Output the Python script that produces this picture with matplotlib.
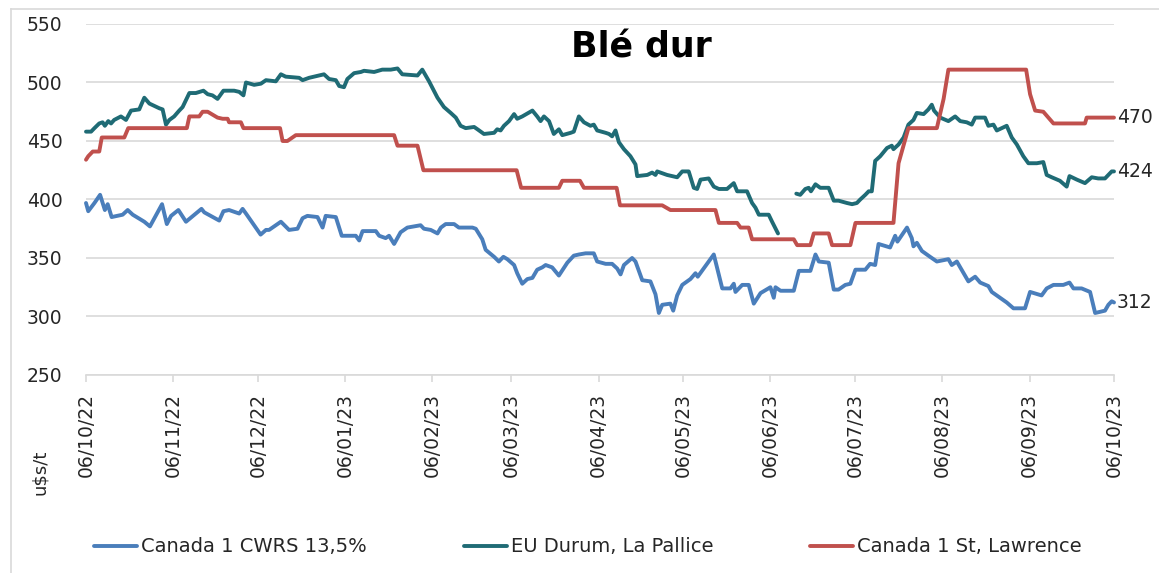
import numpy as np
import matplotlib
matplotlib.use('Agg')
import matplotlib.pyplot as plt
import matplotlib.dates as mdates
from matplotlib.lines import Line2D

# Blé dur prices, u$s/t - days counted from 06/10/22
start = np.datetime64('2022-10-06')

cwrs_days = [0, 0.8, 3, 5, 6.7, 7.7, 9.1, 13, 14.8, 16.6, 20.7, 22.7, 27, 28.7, 30.2, 32.8, 35.5, 41, 42, 47.3,
             48.8, 50.8, 54.4, 55.6, 56.8, 62, 63.9, 65, 69.2, 72.1, 75.1, 76.9, 78.6, 82.2, 84, 85.1, 88.7, 90.8,
             91.6, 95.8, 97, 98.2, 102.9, 104.1, 106.4, 107.6, 109.4, 111.7, 114.1, 118.8, 120, 122.4, 124.8, 126,
             127.7, 130.7, 132.4, 134.2, 137.2, 138.4, 140.7, 141.9, 144.9, 146.6, 148.2, 149.6, 152, 153.1, 154.9,
             156.7, 158.5, 160.2, 162, 163.2, 165.5, 167.9, 170.9, 173.2, 175, 177.4, 180.3, 181.5, 184.5,
             186.8, 188.6, 189.8, 191, 193.9, 195.1, 197.5, 200.4, 202.2, 203.4, 204.6, 207.5, 208.5, 209.9, 211.7,
             214.6, 216.4, 217.2, 222.9, 225.9, 228.8, 230, 230.6, 233, 235.3, 237.1, 239.5, 243, 244.2, 244.8,
             246.6, 251.3, 253.1, 257.2, 259, 260.2, 263.7, 265.5, 267.2, 269.6, 271.4, 273.2, 276.7,
             278.4, 280.2, 281.4, 285.5, 287.3, 288.1, 291.5, 293.2, 293.8, 295, 296.8, 299.7, 302.1, 306.2, 307.4,
             309.2, 313.3, 315.7, 317.5, 320.4, 321.6, 326.9, 329.3, 333.4, 335.2, 339.3, 341.1, 343.5, 347, 349.2,
             350.6, 353.5, 356.5, 358.3, 361.8, 363, 364.2, 365]
cwrs_vals = [397, 390, 397, 404, 391, 396, 385, 387, 391, 387, 381, 377, 396, 379, 386, 391, 381, 392, 389, 382,
             390, 391, 388, 392, 388, 370, 374, 374, 381, 374, 375, 384, 386, 385, 376, 386, 385, 369,
             369, 369, 365, 373, 373, 369, 367, 369, 362, 372, 376, 378, 375, 374, 371, 376,
             379, 379, 376, 376, 376, 375, 366, 357, 351, 347, 351, 349, 344, 337, 328,
             332, 333, 340, 342, 344, 342, 335, 346, 352, 353, 354, 354, 347, 345,
             345, 341, 336, 344, 350, 347, 331, 330, 319, 303, 310, 311, 305, 318, 327,
             332, 337, 334, 353, 324, 324, 328, 321, 327, 327, 311, 320, 325, 316, 325,
             322, 322, 339, 339, 353, 347, 346, 323, 323, 327, 328, 340, 340,
             345, 344, 362, 359, 369, 364, 376, 367, 360, 363, 356, 351, 347, 349, 344,
             347, 330, 334, 329, 326, 321, 312, 307, 307, 321, 318, 324, 327, 327, 329,
             324, 324, 321, 303, 305, 310, 313, 312]

durum_days = [0, 1.8, 3, 4.7, 5.9, 6.7, 7.9, 8.9, 10, 12.4, 14.2, 16, 18.9, 20.7, 22.5, 26, 27.2, 28.4, 29.6, 31.3,
              33.1, 34.3, 36.7, 39, 41.7, 43.2, 44.9, 46.7, 48.8, 52.6, 54.4, 55.9, 56.8, 59.7, 62.1, 63.9, 67.4,
              69.2, 70.9, 75.7, 76.9, 79.2, 82.8, 84.5, 86.3, 88.7, 89.9,
              91.6, 92.8, 95.2, 97.6, 98.7, 102.3, 105.2, 108.2, 110.6, 112.3, 117.7, 119.4, 121.8, 124.8, 127.1,
              129.5, 131.3, 133, 134.8, 137.8, 139, 141.3, 144.9, 146, 147.2, 148.4, 150.2, 152, 153.1, 154.9,
              158.5, 160.2, 161.4, 162.6, 164.4, 166.1, 167.9, 169.1, 172.1, 173.2, 175, 176.8, 179.1, 180.3,
              181.5, 184.5,
              185.7, 186.8, 188, 189.2, 191, 193.3, 195.1, 195.7, 199.3, 201, 202.2, 202.8, 206.3, 209.9, 211.7,
              214, 215.8, 217, 218.2, 221.1, 222.9, 224.7, 227.6, 230, 231.2, 234.7, 236.5, 237.7, 238.9, 242.4,
              243.6, 245.7,
              249,
              252.2, 253.6, 255.4, 256.6, 257.4, 259, 260.7, 263.7, 265.5, 267.2, 270.2, 272, 273.7, 274.9,
              276.7, 277.9, 279, 280.2, 282, 284.4, 286.1, 286.7, 288.5, 290.3, 292, 293.8, 295, 297.4, 299.1,
              300.3, 301.1, 303.3, 306.2, 308.6, 310.4, 312.7, 314.5, 315.7, 319.2, 320.4, 322.2, 323.4, 326.9,
              328.7, 330.5, 332.8, 334.6, 337.6, 339.9, 341.1, 342.9, 345.8, 348.2, 349.2, 351.8, 354.7, 357.1,
              359.4, 361.8, 364.2, 365]
durum_vals = [458, 458, 461, 465, 466, 463, 467, 465, 468, 471, 468, 476, 477, 487, 482, 478, 477, 464, 468, 471,
              476, 479, 491, 491, 493, 490, 489, 486, 493, 493, 492, 489, 500, 498, 499, 502, 501,
              507, 505, 504, 502, 504, 506, 507, 503, 502, 497,
              496, 503, 508, 509, 510, 509, 511, 511, 512, 507, 506, 511, 501, 487, 479,
              474, 470, 463, 461, 462, 460, 456, 457, 460, 459, 463, 467, 473, 469, 471,
              476, 471, 467, 471, 467, 456, 460, 455, 457, 458, 471, 466, 463, 464,
              459, 457,
              456, 454, 459, 449, 443, 437, 430, 420, 421, 423, 421, 424, 421, 419, 424,
              424, 410, 409, 417, 418, 411, 409, 409, 414, 407, 407, 397, 393, 387, 387,
              381, 371,
              np.nan,
              405, 404, 409, 410, 407, 413, 410, 410, 399, 399, 397, 396, 397, 400,
              404, 407, 407, 433, 437, 444, 446, 443, 447, 453, 464, 468, 474, 473, 477,
              481, 476, 470, 467, 471, 467, 466, 464, 470, 470, 463, 464, 459, 463,
              453, 447, 437, 431, 431, 432, 421, 419, 416, 411, 420, 417, 414, 419,
              418, 418, 424, 424]

stl_days = [0, 0.8, 2.4, 4.7, 5.6, 13.6, 15, 35.8, 36.7, 40.2, 41.4, 43.2, 46.7, 48.5, 50.3, 50.8, 55, 55.9,
            68.9, 69.8, 71.5, 74.5, 109.4, 110.6, 117.7, 119.8, 152.9, 154.5, 167.9, 169.1, 175.4, 176.8,
            188.4, 189.6, 204.6, 207.5, 223.5, 224.7, 231.2, 232.4, 235.3, 236.5, 251.3, 252.5, 257.2, 258.4,
            263.7, 264.9, 271.4, 273.2, 286.7, 288.5, 292, 302.1, 304.5, 306.2, 333.8, 335.2, 337, 339.9,
            343.5, 354.7, 355.3, 365]
stl_vals = [434, 437, 441, 441, 453, 453, 461, 461, 471, 471, 475, 475, 470, 469, 469, 466, 466, 461,
            461, 450, 450, 455, 455, 446, 446, 425, 425, 410, 410, 416, 416, 410,
            410, 395, 395, 391, 391, 380, 380, 376, 376, 366, 366, 361, 361, 371,
            371, 361, 361, 380, 380, 431, 461, 461, 486, 511, 511, 490, 476, 475,
            465, 465, 470, 470]

labels = ['Canada 1 CWRS 13,5%', 'EU Durum, La Pallice', 'Canada 1 St, Lawrence']
colors = ['#4A7EBB', '#1F6B75', '#C0504D']
end_labels = ['312', '424', '470']


def to_dates(days):
    return start + np.round(np.array(days) * 24 * 60).astype('timedelta64[m]')


fig = plt.figure(figsize=(11.59, 5.73), dpi=100)
ax = fig.add_axes([86 / 1159, 1 - 375 / 573, (1114 - 86) / 1159, (375 - 24) / 573])

series = [(cwrs_days, cwrs_vals), (durum_days, durum_vals), (stl_days, stl_vals)]
lines = []
for (d, v), c, lab, end in zip(series, colors, labels, end_labels):
    x = to_dates(d)
    ln, = ax.plot(x, np.array(v, dtype=float), color=c, lw=2.8, label=lab, clip_on=False,
                  solid_joinstyle='round', solid_capstyle='round')
    lines.append(ln)
    ax.annotate(end, xy=(x[-1], v[-1]), xytext=(2, 0), textcoords='offset points',
                va='center', ha='left', fontsize=13.5, color='#262626')

ax.set_xlim(start, start + np.timedelta64(365, 'D'))
ax.set_ylim(250, 550)
ax.set_yticks(np.arange(250, 551, 50))
ax.xaxis.set_major_locator(mdates.MonthLocator(bymonthday=6))
ax.xaxis.set_major_formatter(mdates.DateFormatter('%d/%m/%y'))

for s in ['top', 'right', 'left']:
    ax.spines[s].set_visible(False)
ax.spines['bottom'].set_color('#D9D9D9')
ax.spines['bottom'].set_linewidth(1.2)
ax.grid(axis='y', color='#D9D9D9', lw=1.2)
ax.set_axisbelow(True)
ax.tick_params(axis='y', length=0, pad=17, labelsize=13.5, labelcolor='#262626')
ax.tick_params(axis='x', length=5, width=1.2, color='#D9D9D9', pad=8, labelsize=13.5,
               labelcolor='#262626', labelrotation=90)

fig.text(641 / 1159, 1 - 57 / 573, 'Blé dur', ha='center', va='baseline',
         fontsize=25, fontweight='bold', color='black')
fig.text(40 / 1159, 1 - 472 / 573, 'u$s/t', rotation=90, ha='center', va='center',
         fontsize=13, color='#262626')

fig.legend(handles=lines, loc='center', bbox_to_anchor=(588 / 1159, 1 - 547 / 573), ncol=3,
           frameon=False, fontsize=14, handlelength=2.2, handletextpad=0.2, columnspacing=5.0,
           labelcolor='#262626')

# outer chart frame (only top and left edges visible)
fig.add_artist(Line2D([11 / 1159, 1.0], [1 - 9 / 573, 1 - 9 / 573], color='#D9D9D9', lw=1.2,
                      transform=fig.transFigure))
fig.add_artist(Line2D([11 / 1159, 11 / 1159], [0, 1 - 9 / 573], color='#D9D9D9', lw=1.2,
                      transform=fig.transFigure))

fig.savefig('out.png', dpi=100)
